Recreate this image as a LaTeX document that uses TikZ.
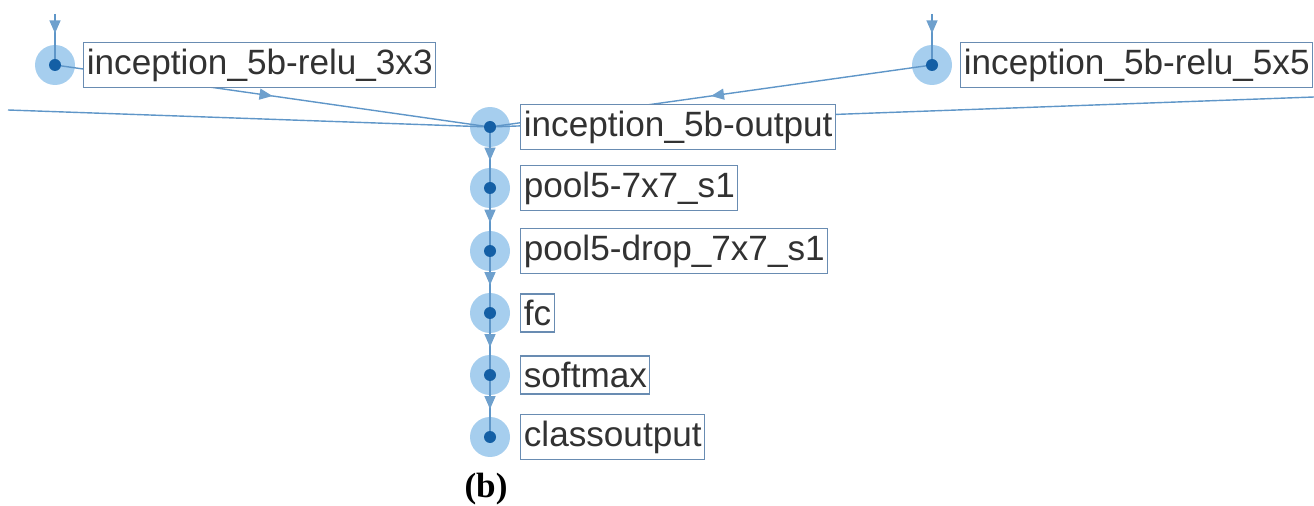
\documentclass[tikz,border=0pt]{standalone}
\usepackage{fontspec}
\setmainfont{Liberation Sans}
\newfontfamily\capfont{Liberation Serif}
\usetikzlibrary{arrows.meta, positioning, decorations.markings}

\definecolor{haloblue}{RGB}{166,206,238}
\definecolor{dotblue}{RGB}{20,95,165}
\definecolor{edgeblue}{RGB}{95,150,200}
\definecolor{tipblue}{RGB}{110,160,205}
\definecolor{boxline}{RGB}{105,140,178}
\definecolor{labelgray}{RGB}{50,50,50}

\tikzset{
    halo/.style={circle, fill=haloblue, minimum size=0.8cm, inner sep=0pt},
    dot/.style={circle, fill=dotblue, minimum size=0.24cm, inner sep=0pt},
    layer/.style={draw=boxline, fill=white, text=labelgray, line width=0.6pt,
        font=\fontsize{20}{20}\selectfont, inner xsep=0.06cm, minimum height=0.76cm},
    plain/.style={color=edgeblue, line width=0.8pt},
    edge/.style={plain, postaction={decorate}, decoration={markings,
        mark=at position #1 with {\arrow[tipblue]{Triangle[width=0.22cm, length=0.26cm]}}}},
    edge/.default=0.55,
}

\begin{document}
\begin{tikzpicture}[x=0.02cm, y=-0.02cm]
    \useasboundingbox (0,0) rectangle (1314,506);
    % layer positions
    \node [halo] (h1) at (55,65) {};
    \node [halo] (h2) at (932,65) {};
    \node [halo] (h3) at (490,127) {};
    \node [halo] (h4) at (490,188) {};
    \node [halo] (h5) at (490,251) {};
    \node [halo] (h6) at (490,313) {};
    \node [halo] (h7) at (490,375) {};
    \node [halo] (h8) at (490,437) {};
    \coordinate (t1) at (55,14);
    \coordinate (t2) at (932,14);
    \coordinate (left) at (8,110);
    \coordinate (right) at (1314,97);

    % connections
    \draw [edge=0.38] (t1) -- (h1.center);
    \draw [edge=0.38] (t2) -- (h2.center);
    \draw [plain] (left) -- (h3.center);
    \draw [plain] (right) -- (h3.center);
    \draw [edge=0.5] (h1.center) -- (h3.center);
    \draw [edge=0.5] (h2.center) -- (h3.center);
    \draw [edge] (h3.center) -- (h4.center);
    \draw [edge] (h4.center) -- (h5.center);
    \draw [edge] (h5.center) -- (h6.center);
    \draw [edge] (h6.center) -- (h7.center);
    \draw [edge] (h7.center) -- (h8.center);

    \foreach \n in {h1,h2,h3,h4,h5,h6,h7,h8}
        \node [dot] at (\n) {};

    % labels
    \node [layer, right=0.16cm of h1] (l1) {inception\_5b-relu\_3x3};
    \node [layer, right=0.16cm of h2] (l2) {inception\_5b-relu\_5x5};
    \node [layer, right=0.2cm of h3] (l3) {inception\_5b-output};
    \node [layer, right=0.2cm of h4] (l4) {pool5-7x7\_s1};
    \node [layer, right=0.2cm of h5] (l5) {pool5-drop\_7x7\_s1};
    \node [layer, right=0.2cm of h6] (l6) {fc};
    \node [layer, right=0.2cm of h7] (l7) {softmax};
    \node [layer, right=0.2cm of h8] (l8) {classoutput};

    \node [font=\capfont\bfseries\fontsize{20}{20}\selectfont] (cap) at (486,489) {(b)};
\end{tikzpicture}
\end{document}
